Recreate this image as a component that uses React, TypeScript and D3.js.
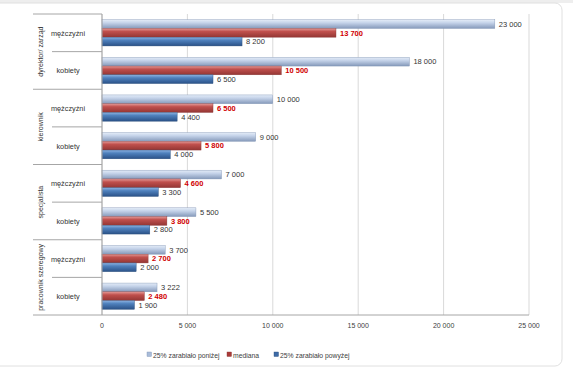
import React from "react";
import * as d3 from "d3";

const groups = ["dyrektor/ zarząd", "kierownik", "specjalista", "pracownik szeregowy"];
const subs = ["mężczyźni", "kobiety"];
const seriesNames = ["25% zarabiało poniżej", "mediana", "25% zarabiało powyżej"];
const belowValues = [23000, 18000, 10000, 9000, 7000, 5500, 3700, 3222];
const medianValues = [13700, 10500, 6500, 5800, 4600, 3800, 2700, 2480];
const aboveValues = [8200, 6500, 4400, 4000, 3300, 2800, 2000, 1900];
const xTicks = [0, 5000, 10000, 15000, 20000, 25000];

const W = 573, H = 375;
const plotL = 102, plotR = 529, plotT = 14, plotB = 315;
const font = "'Liberation Sans', Arial, sans-serif";

const fmt = (v: number) => {
  const s = String(v);
  return s.length > 3 ? s.slice(0, s.length - 3) + " " + s.slice(-3) : s;
};

export default function App() {
  const rows = d3.range(groups.length * subs.length);
  const x = d3.scaleLinear().domain([0, 25000]).range([plotL, plotR]);
  const y = d3.scaleBand<number>().domain(rows).range([plotT, plotB]).paddingInner(0).paddingOuter(0);
  const inner = d3.scaleBand<number>().domain([0, 1, 2]).range([0, y.bandwidth()]).paddingOuter(0.65).paddingInner(0);
  const series = [belowValues, medianValues, aboveValues];
  const fills = ["url(#gLight)", "url(#gRed)", "url(#gBlue)"];
  const strokes = ["#7f93b3", "#8c3b39", "#2c4f7c"];
  const labelColors = ["#333333", "#d00000", "#333333"];
  const legendColors = ["#a9bcd9", "#a93a37", "#3d6aa6"];

  const groupY = (g: number) => y(g * 2)!;
  const legendX = [149, 229, 276];

  return (
    <svg width={W} height={H} style={{ position: "absolute", left: 0, top: 0, background: "#fff" }} fontFamily={font}>
      <defs>
        <linearGradient id="gLight" x1="0" y1="0" x2="0" y2="1">
          <stop offset="0" stopColor="#e4ecf7" />
          <stop offset="0.35" stopColor="#c6d4ea" />
          <stop offset="1" stopColor="#8599ba" />
        </linearGradient>
        <linearGradient id="gRed" x1="0" y1="0" x2="0" y2="1">
          <stop offset="0" stopColor="#e49a97" />
          <stop offset="0.35" stopColor="#c0504d" />
          <stop offset="1" stopColor="#943634" />
        </linearGradient>
        <linearGradient id="gBlue" x1="0" y1="0" x2="0" y2="1">
          <stop offset="0" stopColor="#8db3e2" />
          <stop offset="0.35" stopColor="#4f81bd" />
          <stop offset="1" stopColor="#2a5187" />
        </linearGradient>
      </defs>
      <rect x={0} y={0} width={W} height={3} fill="#eeeeee" />
      <rect x={-8} y={3} width={570} height={363} rx={7} fill="#fff" stroke="#e0e0e0" strokeWidth={1} />
      {xTicks.map((t) => (
        <line key={"g" + t} x1={x(t)} x2={x(t)} y1={plotT} y2={plotB} stroke="#d9d9d9" strokeWidth={1} />
      ))}
      {xTicks.map((t) => (
        <text key={"t" + t} x={x(t)} y={plotB + 13} fontSize={7} fill="#404040" textAnchor="middle">
          {fmt(t)}
        </text>
      ))}
      {rows.map((r) =>
        series.map((vals, s) => {
          const by = y(r)! + inner(s)!;
          const bh = inner.bandwidth();
          return (
            <g key={r + "-" + s}>
              <rect x={x(0)} y={by} width={x(vals[r]) - x(0)} height={bh} fill={fills[s]} stroke={strokes[s]} strokeWidth={0.4} />
              <text x={x(vals[r]) + 4} y={by + bh / 2 + 2.7} fontSize={7.5} fill={labelColors[s]} fontWeight={s === 1 ? "bold" : "normal"}>
                {fmt(vals[r])}
              </text>
            </g>
          );
        })
      )}
      <line x1={plotL} x2={plotR} y1={plotB} y2={plotB} stroke="#a6a6a6" />
      <line x1={plotL} x2={plotL} y1={plotT} y2={plotB} stroke="#a6a6a6" />
      {groups.map((g, gi) => (
        <line key={"gl" + gi} x1={33} x2={plotL} y1={groupY(gi)} y2={groupY(gi)} stroke="#a6a6a6" />
      ))}
      <line x1={33} x2={plotL} y1={plotB} y2={plotB} stroke="#a6a6a6" />
      {groups.map((g, gi) => (
        <line key={"sl" + gi} x1={52} x2={plotL} y1={y(gi * 2 + 1)!} y2={y(gi * 2 + 1)!} stroke="#a6a6a6" />
      ))}
      {rows.map((r) => (
        <text key={"c" + r} x={68} y={y(r)! + y.bandwidth() / 2 + 3} fontSize={7.3} fill="#333333" textAnchor="middle">
          {subs[r % 2]}
        </text>
      ))}
      {groups.map((g, gi) => {
        const cy = groupY(gi) + y.bandwidth();
        return (
          <text key={"gt" + gi} transform={`translate(42.5,${cy}) rotate(-90)`} fontSize={7} fill="#333333" textAnchor="middle">
            {g}
          </text>
        );
      })}
      {seriesNames.map((n, i) => (
        <g key={"lg" + i}>
          <rect x={legendX[i] - 2} y={352} width={4.5} height={4.5} fill={legendColors[i]} stroke={strokes[i]} strokeWidth={0.4} />
          <text x={legendX[i] + 4} y={357.5} fontSize={6.8} fill="#404040">
            {n}
          </text>
        </g>
      ))}
    </svg>
  );
}
